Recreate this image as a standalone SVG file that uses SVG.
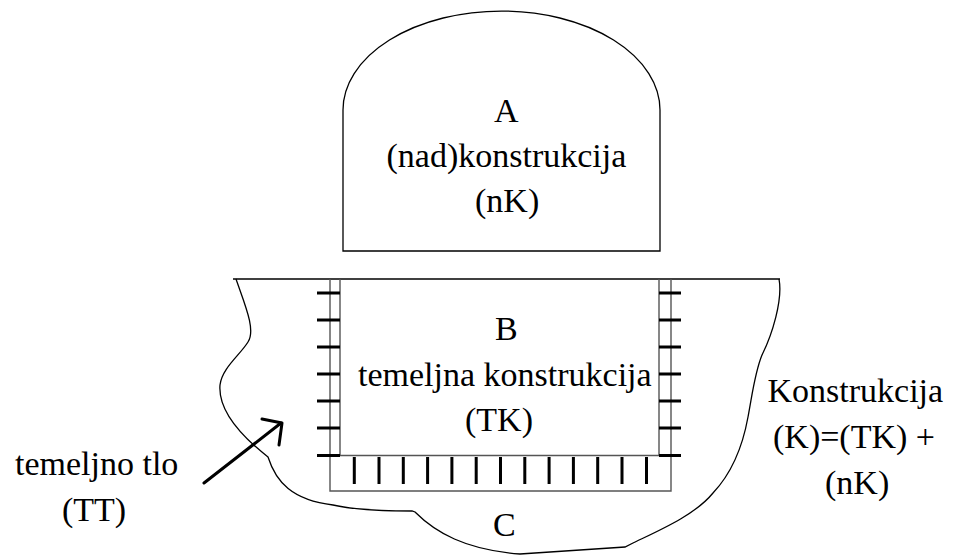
<svg xmlns="http://www.w3.org/2000/svg" width="953" height="557" viewBox="0 0 953 557">
<rect width="953" height="557" fill="#fff"/>
<g id="soil" fill="none" stroke="#000" stroke-width="1.3">
<path d="M233 279 L780 279"/>
<path d="M236 279 C245 305,256 330,248 342 C240 355,222 368,220 385 C218 410,240 435,268 457 C276 482,292 500,333 505 C350 509,380 511,412 511 L415 512 C435 532,465 550,520 554 L625 547 L633 543 C660 530,695 515,713 493 C730 475,742 450,748 417 C753 390,755 372,762 355 C772 335,783 300,779 279"/>
</g>
<g id="superstructure">
<path d="M343 251 L343 110 A158.5 99 0 0 1 660 110 L660 251 Z" fill="none" stroke="#000" stroke-width="1.3"/>
<text x="494" y="122" font-size="34" font-family="Liberation Serif" style="font-family:'Liberation Serif',serif">A</text>
<text x="386.5" y="167" font-size="34" font-family="Liberation Serif" style="font-family:'Liberation Serif',serif">(nad)konstrukcija</text>
<text x="475" y="212" font-size="34" font-family="Liberation Serif" style="font-family:'Liberation Serif',serif">(nK)</text>
</g>
<g id="foundation">
<g fill="none" stroke="#555" stroke-width="1.4">
<path d="M330 279 L330 491 L671 491 L671 279"/>
<path d="M340 279 L340 455.5 L659 455.5 L659 279"/>
</g>
<g fill="none" stroke="#000" stroke-width="3">
<path d="M317 293H340M317 320H340M317 347H340M317 374H340M317 401H340M317 428H340M317 455.5H340"/>
<path d="M659 293H681M659 320H681M659 347H681M659 374H681M659 401H681M659 428H681M659 455.5H681"/>
<path d="M354.3 457V484M379 457V484M403.3 457V484M427.6 457V484M451.9 457V484M476.2 457V484M500.5 457V484M524.8 457V484M549.1 457V484M573.4 457V484M597.7 457V484M622 457V484M646.5 457V484"/>
</g>
<text x="495" y="340" font-size="34" font-family="Liberation Serif" style="font-family:'Liberation Serif',serif">B</text>
<text x="358" y="386" font-size="34" font-family="Liberation Serif" style="font-family:'Liberation Serif',serif">temeljna konstrukcija</text>
<text x="465" y="431" font-size="34" font-family="Liberation Serif" style="font-family:'Liberation Serif',serif">(TK)</text>
</g>
<g id="label-C">
<text x="493" y="536" font-size="34" font-family="Liberation Serif" style="font-family:'Liberation Serif',serif">C</text>
</g>
<g id="label-TT">
<text x="15" y="475" font-size="34" font-family="Liberation Serif" style="font-family:'Liberation Serif',serif">temeljno tlo</text>
<text x="62" y="521" font-size="34" font-family="Liberation Serif" style="font-family:'Liberation Serif',serif">(TT)</text>
</g>
<g id="label-K">
<text x="767.5" y="402" font-size="34" font-family="Liberation Serif" style="font-family:'Liberation Serif',serif">Konstrukcija</text>
<text x="773" y="448" font-size="34" font-family="Liberation Serif" style="font-family:'Liberation Serif',serif">(K)=(TK) +</text>
<text x="825" y="494" font-size="34" font-family="Liberation Serif" style="font-family:'Liberation Serif',serif">(nK)</text>
</g>
<g id="connectors" fill="none" stroke="#000" stroke-width="3" stroke-linecap="round" stroke-linejoin="round">
<path d="M204 483 L281 423"/>
<path d="M262 419 L282 423 L279 445"/>
</g>
</svg>
